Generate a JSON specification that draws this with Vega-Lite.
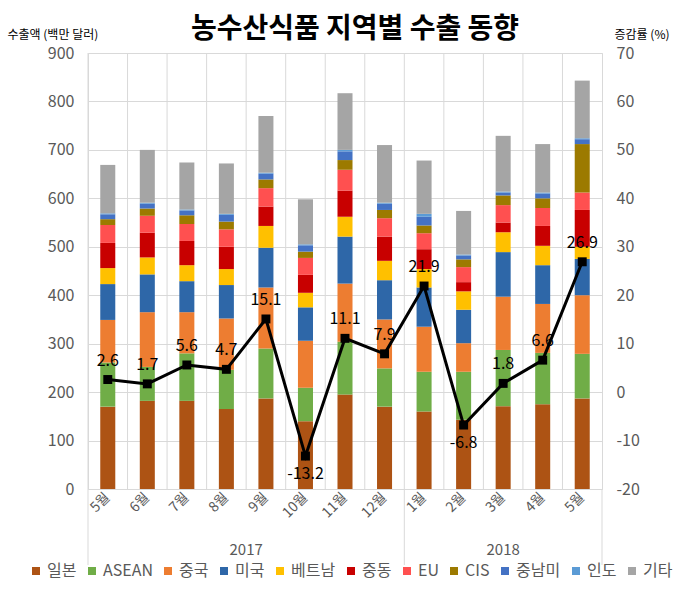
{
  "$schema": "https://vega.github.io/schema/vega-lite/v6.json",
  "autosize": "none",
  "width": 514,
  "height": 436,
  "padding": {"left": 88, "top": 53, "right": 78, "bottom": 100},
  "title": {"text": "농수산식품 지역별 수출 동향", "fontSize": 28, "fontWeight": "bold", "font": "Noto Sans CJK KR", "color": "#000000", "anchor": "middle", "frame": "group", "dx": 10, "offset": -16},
  "config": {
    "font": "Noto Sans CJK KR",
    "view": {"stroke": "#d9d9d9"},
    "axis": {"labelFont": "Noto Sans CJK KR", "labelColor": "#595959", "titleFont": "Noto Sans CJK KR"}
  },
  "datasets": {
    "regions": [
      {"region": "일본", "k": 1}, {"region": "ASEAN", "k": 2}, {"region": "중국", "k": 3}, {"region": "미국", "k": 4},
      {"region": "베트남", "k": 5}, {"region": "중동", "k": 6}, {"region": "EU", "k": 7}, {"region": "CIS", "k": 8},
      {"region": "중남미", "k": 9}, {"region": "인도", "k": 10}, {"region": "기타", "k": 11}
    ],
    "d": [
      {"m": "2017-05", "일본": 170, "ASEAN": 91, "중국": 88, "미국": 74, "베트남": 33, "중동": 52, "EU": 37, "CIS": 12, "중남미": 10, "인도": 2, "기타": 100, "g": 2.6},
      {"m": "2017-06", "일본": 182, "ASEAN": 70, "중국": 113, "미국": 78, "베트남": 35, "중동": 51, "EU": 35, "CIS": 15, "중남미": 10, "인도": 2, "기타": 109, "g": 1.7},
      {"m": "2017-07", "일본": 182, "ASEAN": 98, "중국": 85, "미국": 64, "베트남": 33, "중동": 50, "EU": 35, "CIS": 18, "중남미": 10, "인도": 2, "기타": 97, "g": 5.6},
      {"m": "2017-08", "일본": 165, "ASEAN": 81, "중국": 106, "미국": 69, "베트남": 33, "중동": 46, "EU": 36, "CIS": 16, "중남미": 14, "인도": 2, "기타": 104, "g": 4.7},
      {"m": "2017-09", "일본": 187, "ASEAN": 103, "중국": 126, "미국": 82, "베트남": 45, "중동": 40, "EU": 38, "CIS": 18, "중남미": 12, "인도": 2, "기타": 117, "g": 15.1},
      {"m": "2017-10", "일본": 140, "ASEAN": 69, "중국": 97, "미국": 69, "베트남": 30, "중동": 37, "EU": 35, "CIS": 13, "중남미": 13, "인도": 2, "기타": 93, "g": -13.2},
      {"m": "2017-11", "일본": 195, "ASEAN": 109, "중국": 120, "미국": 97, "베트남": 41, "중동": 54, "EU": 43, "CIS": 20, "중남미": 18, "인도": 3, "기타": 117, "g": 11.1},
      {"m": "2017-12", "일본": 170, "ASEAN": 79, "중국": 101, "미국": 81, "베트남": 40, "중동": 50, "EU": 38, "CIS": 17, "중남미": 13, "인도": 2, "기타": 119, "g": 7.9},
      {"m": "2018-01", "일본": 160, "ASEAN": 82, "중국": 93, "미국": 81, "베트남": 38, "중동": 41, "EU": 33, "CIS": 16, "중남미": 18, "인도": 6, "기타": 110, "g": 21.9},
      {"m": "2018-02", "일본": 143, "ASEAN": 99, "중국": 59, "미국": 69, "베트남": 38, "중동": 19, "EU": 31, "CIS": 16, "중남미": 8, "인도": 2, "기타": 90, "g": -6.8},
      {"m": "2018-03", "일본": 171, "ASEAN": 116, "중국": 110, "미국": 92, "베트남": 41, "중동": 20, "EU": 36, "CIS": 20, "중남미": 6, "인도": 2, "기타": 115, "g": 1.8},
      {"m": "2018-04", "일본": 175, "ASEAN": 106, "중국": 101, "미국": 80, "베트남": 40, "중동": 41, "EU": 37, "CIS": 20, "중남미": 10, "인도": 2, "기타": 100, "g": 6.6},
      {"m": "2018-05", "일본": 187, "ASEAN": 92, "중국": 121, "미국": 75, "베트남": 25, "중동": 76, "EU": 36, "CIS": 100, "중남미": 10, "인도": 2, "기타": 119, "g": 26.9}
    ]
  },
  "data": {"name": "d"},
  "layer": [
    {
      "layer": [
        {
          "transform": [
            {"fold": ["일본", "ASEAN", "중국", "미국", "베트남", "중동", "EU", "CIS", "중남미", "인도", "기타"], "as": ["region", "v"]},
            {"lookup": "region", "from": {"data": {"name": "regions"}, "key": "region", "fields": ["k"]}}
          ],
          "mark": {"type": "bar", "width": {"band": 0.38}},
          "encoding": {
            "x": {
              "field": "m", "type": "ordinal",
              "scale": {"paddingInner": 0, "paddingOuter": 0},
              "axis": {"title": null, "labelExpr": "toNumber(substring(datum.value, 5)) + '월'", "labelAngle": -45, "labelAlign": "right", "labelBaseline": "middle", "labelFontSize": 14, "labelPadding": 6, "ticks": false, "domain": false, "grid": false}
            },
            "y": {
              "field": "v", "type": "quantitative", "stack": "zero",
              "scale": {"domain": [0, 900]},
              "axis": {"title": "수출액 (백만 달러)", "titleAngle": 0, "titleAlign": "left", "titleBaseline": "middle", "titleX": -81, "titleY": -19, "titleFontSize": 12, "titleFontWeight": "normal", "titleColor": "#000000", "values": [0, 100, 200, 300, 400, 500, 600, 700, 800, 900], "grid": true, "gridColor": "#d9d9d9", "domain": false, "ticks": false, "labelFontSize": 16, "labelPadding": 14}
            },
            "order": {"field": "k", "type": "quantitative", "sort": "ascending"},
            "color": {
              "field": "region", "type": "nominal",
              "scale": {
                "domain": ["일본", "ASEAN", "중국", "미국", "베트남", "중동", "EU", "CIS", "중남미", "인도", "기타"],
                "range": ["#AD5314", "#70AD47", "#ED7D31", "#2E67A8", "#FFC000", "#C80000", "#FF5050", "#9C7A00", "#4472C4", "#5B9BD5", "#A5A5A5"]
              },
              "legend": {"title": null, "orient": "none", "legendX": -60, "legendY": 510, "direction": "horizontal", "columns": 11, "symbolType": "square", "symbolSize": 64, "symbolStrokeWidth": 0, "labelFontSize": 16, "labelColor": "#595959", "labelOffset": 3, "columnPadding": 7}
            }
          }
        },
        {
          "mark": {"type": "rule", "color": "#d9d9d9", "strokeWidth": 1},
          "encoding": {
            "x": {"field": "m", "type": "ordinal", "bandPosition": 0},
            "y": {"datum": 0, "type": "quantitative", "scale": {"domain": [0, 900]}},
            "y2": {"datum": 900}
          }
        },
        {
          "data": {"values": [{"m": "2017-05"}, {"m": "2018-01"}]},
          "mark": {"type": "rule", "color": "#d9d9d9", "strokeWidth": 1},
          "encoding": {
            "x": {"field": "m", "type": "ordinal", "bandPosition": 0},
            "y": {"datum": 0, "type": "quantitative", "scale": {"domain": [0, 900]}},
            "y2": {"datum": -157}
          }
        },
        {
          "data": {"values": [{"m": "2018-05"}]},
          "mark": {"type": "rule", "color": "#d9d9d9", "strokeWidth": 1},
          "encoding": {
            "x": {"field": "m", "type": "ordinal", "bandPosition": 1},
            "y": {"datum": 0, "type": "quantitative", "scale": {"domain": [0, 900]}},
            "y2": {"datum": -157}
          }
        },
        {
          "data": {"values": [{"m": "2017-09", "year": "2017"}]},
          "mark": {"type": "text", "fontSize": 15, "color": "#595959", "baseline": "middle"},
          "encoding": {
            "x": {"field": "m", "type": "ordinal", "bandPosition": 0},
            "y": {"datum": -125, "type": "quantitative", "scale": {"domain": [0, 900]}},
            "text": {"field": "year"}
          }
        },
        {
          "data": {"values": [{"m": "2018-03", "year": "2018"}]},
          "mark": {"type": "text", "fontSize": 15, "color": "#595959", "baseline": "middle"},
          "encoding": {
            "x": {"field": "m", "type": "ordinal", "bandPosition": 0.5},
            "y": {"datum": -125, "type": "quantitative", "scale": {"domain": [0, 900]}},
            "text": {"field": "year"}
          }
        }
      ]
    },
    {
      "layer": [
        {
          "mark": {"type": "line", "color": "#000000", "strokeWidth": 3},
          "encoding": {
            "x": {"field": "m", "type": "ordinal"},
            "y": {
              "field": "g", "type": "quantitative",
              "scale": {"domain": [-20, 70]},
              "axis": {"orient": "right", "title": "증감률 (%)", "titleAngle": 0, "titleAlign": "right", "titleBaseline": "middle", "titleX": 67, "titleY": -19, "titleFontSize": 12, "titleFontWeight": "normal", "titleColor": "#000000", "values": [-20, -10, 0, 10, 20, 30, 40, 50, 60, 70], "labelExpr": "'' + datum.value", "grid": false, "domain": false, "ticks": false, "labelFontSize": 16, "labelPadding": 14}
            }
          }
        },
        {
          "mark": {"type": "square", "color": "#000000", "size": 80, "opacity": 1},
          "encoding": {
            "x": {"field": "m", "type": "ordinal"},
            "y": {"field": "g", "type": "quantitative", "scale": {"domain": [-20, 70]}}
          }
        },
        {
          "transform": [{"filter": {"field": "g", "gte": 0}}],
          "mark": {"type": "text", "fontSize": 16, "color": "#000000", "dy": -19},
          "encoding": {
            "x": {"field": "m", "type": "ordinal"},
            "y": {"field": "g", "type": "quantitative", "scale": {"domain": [-20, 70]}},
            "text": {"field": "g", "type": "nominal"}
          }
        },
        {
          "transform": [{"filter": {"field": "g", "lt": 0}}],
          "mark": {"type": "text", "fontSize": 16, "color": "#000000", "dy": 18},
          "encoding": {
            "x": {"field": "m", "type": "ordinal"},
            "y": {"field": "g", "type": "quantitative", "scale": {"domain": [-20, 70]}},
            "text": {"field": "g", "type": "nominal"}
          }
        }
      ]
    }
  ],
  "resolve": {"scale": {"y": "independent"}}
}
